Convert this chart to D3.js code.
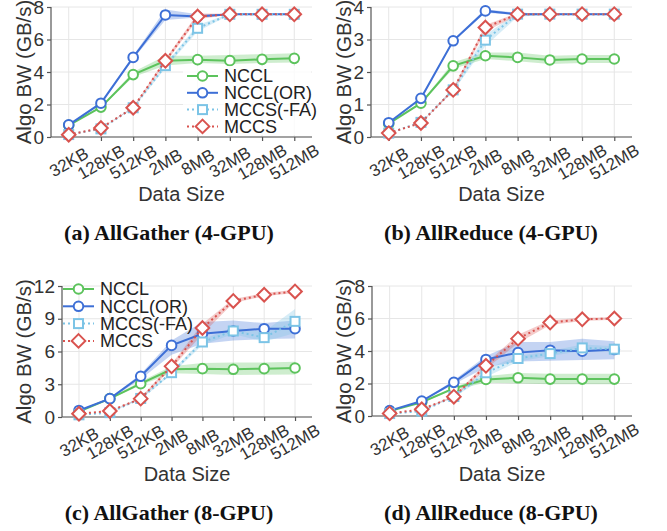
<!DOCTYPE html>
<html>
<head>
<meta charset="utf-8">
<script src="https://cdn.jsdelivr.net/npm/d3@7"></script>
<style>
  body { margin: 0; background: #fff; }
  svg { display: block; }
</style>
</head>
<body>
<div id="chart"></div>
<script>
// Message sizes on the x axis
const sizes = ["32KB", "128KB", "512KB", "2MB", "8MB", "32MB", "128MB", "512MB"];
const seriesNames = ["NCCL", "NCCL(OR)", "MCCS(-FA)", "MCCS"];

// (a) AllGather 4-GPU
const ag4Nccl     = [0.72, 1.84, 3.84, 4.69, 4.76, 4.70, 4.78, 4.84];
const ag4NcclLo   = [0.72, 1.80, 3.70, 4.40, 4.55, 4.50, 4.55, 4.58];
const ag4NcclHi   = [0.72, 1.88, 4.00, 5.00, 5.00, 5.05, 5.10, 5.15];
const ag4Or       = [0.75, 2.08, 4.90, 7.51, 7.41, 7.55, 7.55, 7.55];
const ag4OrLo     = [0.75, 2.05, 4.80, 7.20, 7.35, 7.52, 7.52, 7.52];
const ag4OrHi     = [0.75, 2.10, 5.00, 7.85, 7.55, 7.58, 7.58, 7.58];
const ag4Fa       = [0.15, 0.50, 1.80, 4.39, 6.69, 7.55, 7.55, 7.55];
const ag4FaLo     = [0.15, 0.50, 1.75, 4.25, 6.50, 7.52, 7.52, 7.52];
const ag4FaHi     = [0.15, 0.50, 1.85, 4.50, 6.90, 7.58, 7.58, 7.58];
const ag4Mccs     = [0.14, 0.55, 1.80, 4.69, 7.41, 7.55, 7.55, 7.55];
const ag4MccsLo   = [0.14, 0.55, 1.75, 4.55, 7.25, 7.52, 7.52, 7.52];
const ag4MccsHi   = [0.14, 0.55, 1.85, 4.80, 7.60, 7.58, 7.58, 7.58];

// (b) AllReduce 4-GPU
const ar4Nccl     = [0.41, 1.04, 2.19, 2.50, 2.45, 2.37, 2.40, 2.40];
const ar4NcclLo   = [0.41, 1.02, 2.10, 2.40, 2.33, 2.25, 2.28, 2.28];
const ar4NcclHi   = [0.41, 1.06, 2.30, 2.60, 2.60, 2.50, 2.52, 2.52];
const ar4Or       = [0.44, 1.19, 2.96, 3.88, 3.78, 3.78, 3.78, 3.78];
const ar4OrLo     = [0.44, 1.17, 2.92, 3.82, 3.75, 3.76, 3.76, 3.76];
const ar4OrHi     = [0.44, 1.21, 3.00, 3.93, 3.82, 3.80, 3.80, 3.80];
const ar4Fa       = [0.12, 0.45, 1.45, 2.98, 3.78, 3.78, 3.78, 3.78];
const ar4FaLo     = [0.12, 0.45, 1.40, 2.80, 3.70, 3.76, 3.76, 3.76];
const ar4FaHi     = [0.12, 0.45, 1.50, 3.15, 3.82, 3.80, 3.80, 3.80];
const ar4Mccs     = [0.12, 0.43, 1.45, 3.37, 3.78, 3.78, 3.78, 3.78];
const ar4MccsLo   = [0.12, 0.43, 1.40, 3.25, 3.74, 3.76, 3.76, 3.76];
const ar4MccsHi   = [0.12, 0.43, 1.50, 3.45, 3.82, 3.80, 3.80, 3.80];

// (c) AllGather 8-GPU
const ag8Nccl     = [0.50, 1.68, 3.05, 4.37, 4.43, 4.37, 4.43, 4.49];
const ag8NcclLo   = [0.50, 1.62, 2.90, 4.00, 3.95, 3.85, 3.88, 3.90];
const ag8NcclHi   = [0.50, 1.74, 3.25, 4.65, 4.95, 5.00, 5.00, 5.05];
const ag8Or       = [0.60, 1.68, 3.73, 6.56, 7.63, 7.88, 8.09, 8.09];
const ag8OrLo     = [0.60, 1.62, 3.45, 5.70, 6.70, 7.00, 7.15, 7.20];
const ag8OrHi     = [0.60, 1.74, 3.95, 7.00, 8.70, 8.85, 8.60, 8.85];
const ag8Fa       = [0.20, 0.40, 1.70, 4.06, 6.87, 7.88, 7.27, 8.76];
const ag8FaLo     = [0.20, 0.40, 1.60, 3.90, 6.60, 7.60, 6.90, 7.70];
const ag8FaHi     = [0.20, 0.40, 1.80, 4.20, 7.10, 8.20, 7.80, 9.90];
const ag8Mccs     = [0.30, 0.55, 1.68, 4.64, 8.15, 10.63, 11.20, 11.50];
const ag8MccsLo   = [0.30, 0.55, 1.60, 4.45, 7.60, 10.45, 11.05, 11.35];
const ag8MccsHi   = [0.30, 0.55, 1.78, 4.85, 8.55, 10.80, 11.35, 11.65];

// (d) AllReduce 8-GPU
const ar8Nccl     = [0.30, 0.85, 1.70, 2.25, 2.35, 2.27, 2.27, 2.27];
const ar8NcclLo   = [0.30, 0.83, 1.62, 2.05, 2.00, 1.95, 1.95, 1.95];
const ar8NcclHi   = [0.30, 0.87, 1.78, 2.45, 2.65, 2.60, 2.60, 2.60];
const ar8Or       = [0.33, 0.92, 2.07, 3.48, 3.90, 4.05, 3.99, 4.09];
const ar8OrLo     = [0.33, 0.90, 1.95, 3.00, 3.35, 3.40, 3.45, 3.50];
const ar8OrHi     = [0.33, 0.94, 2.20, 3.70, 4.55, 4.55, 4.75, 4.60];
const ar8Fa       = [0.15, 0.30, 1.20, 2.66, 3.54, 3.84, 4.19, 4.11];
const ar8FaLo     = [0.15, 0.30, 1.15, 2.40, 3.35, 3.70, 4.00, 3.95];
const ar8FaHi     = [0.15, 0.30, 1.25, 2.90, 3.70, 4.00, 4.40, 4.30];
const ar8Mccs     = [0.16, 0.41, 1.19, 3.09, 4.76, 5.75, 5.95, 6.00];
const ar8MccsLo   = [0.16, 0.41, 1.12, 2.90, 4.50, 5.60, 5.85, 5.92];
const ar8MccsHi   = [0.16, 0.41, 1.26, 3.25, 5.00, 5.90, 6.05, 6.08];

const yTicks4GpuAg = [0, 2, 4, 6, 8];
const yTicks4GpuAr = [0, 1, 2, 3, 4];
const yTicks8GpuAg = [0, 3, 6, 9, 12];
const yTicks8GpuAr = [0, 2, 4, 6, 8];

// Series look: color, dash, marker
const STYLES = [
  { color: "#5cc35c", dash: null,  marker: "circle"  },
  { color: "#3d6fd6", dash: null,  marker: "circle"  },
  { color: "#7cc4e6", dash: "2,3", marker: "square"  },
  { color: "#d9534f", dash: "2,3", marker: "diamond" },
];

const SANS  = "'Liberation Sans', Arial, sans-serif";
const SERIF = "'Liberation Serif', 'DejaVu Serif', serif";

const W = 667, H = 531;
const svg = d3.select("#chart").append("svg")
  .attr("width", W).attr("height", H);
svg.append("rect").attr("width", W).attr("height", H).attr("fill", "#fff");

function drawMarker(sel, kind, color) {
  if (kind === "circle") {
    sel.append("circle").attr("r", 4.8);
  } else if (kind === "square") {
    sel.append("rect").attr("x", -4.5).attr("y", -4.5).attr("width", 9).attr("height", 9);
  } else {
    sel.append("path").attr("d", "M0,-6.8L6.8,0L0,6.8L-6.8,0Z");
  }
  sel.selectAll("*").attr("fill", "#fff").attr("stroke", color).attr("stroke-width", 2);
}

function drawPanel(p) {
  const x = d3.scaleLinear().domain([-0.55, sizes.length - 0.45]).range([p.left, p.right]);
  const y = d3.scaleLinear().domain([0, p.yMax]).range([p.bottom, p.top]);
  const g = svg.append("g");

  // grid
  g.append("g").selectAll("line").data(sizes).join("line")
    .attr("x1", (d, i) => x(i)).attr("x2", (d, i) => x(i))
    .attr("y1", p.top).attr("y2", p.bottom)
    .attr("stroke", "#e6e6e6").attr("stroke-width", 1);
  g.append("g").selectAll("line").data(p.yTicks).join("line")
    .attr("x1", p.left).attr("x2", p.right)
    .attr("y1", d => y(d)).attr("y2", d => y(d))
    .attr("stroke", "#e6e6e6").attr("stroke-width", 1);

  // bands
  p.series.forEach((s, k) => {
    const area = d3.area()
      .x((d, i) => x(i))
      .y0((d, i) => y(s.lo[i]))
      .y1((d, i) => y(s.hi[i]));
    g.append("path").datum(s.v).attr("d", area)
      .attr("fill", STYLES[k].color).attr("fill-opacity", 0.3);
  });

  // axes
  const xAxis = g.append("g").attr("transform", `translate(0,${p.bottom})`)
    .call(d3.axisBottom(x).tickValues(d3.range(sizes.length)).tickSize(4).tickFormat(""));
  xAxis.select(".domain").attr("d", `M${p.left},0H${p.right}`);
  xAxis.selectAll("path, line").attr("stroke", "#555").attr("stroke-width", 1.2);

  g.append("g").selectAll("text").data(sizes).join("text")
    .attr("transform", (d, i) => `translate(${x(i)},${p.bottom + 25}) rotate(-30)`)
    .attr("text-anchor", "middle").attr("dy", "0.35em")
    .attr("font-family", SANS).attr("font-size", 17).attr("fill", "#333")
    .text(d => d);

  const yAxis = g.append("g").attr("transform", `translate(${p.left},0)`)
    .call(d3.axisLeft(y).tickValues(p.yTicks).tickSize(4).tickPadding(3)
      .tickFormat(d3.format("d")));
  yAxis.select(".domain").attr("d", `M0,${p.top}V${p.bottom}`);
  yAxis.selectAll("path, line").attr("stroke", "#555").attr("stroke-width", 1.2);
  yAxis.selectAll("text").attr("font-family", SANS).attr("font-size", 19).attr("fill", "#333");

  // lines + markers
  p.series.forEach((s, k) => {
    const st = STYLES[k];
    const line = d3.line().x((d, i) => x(i)).y(d => y(d));
    g.append("path").datum(s.v).attr("d", line)
      .attr("fill", "none").attr("stroke", st.color).attr("stroke-width", 2)
      .attr("stroke-dasharray", st.dash);
    g.append("g").selectAll("g").data(s.v).join("g")
      .attr("transform", (d, i) => `translate(${x(i)},${y(d)})`)
      .each(function () { drawMarker(d3.select(this), st.marker, st.color); });
  });

  // labels
  g.append("text")
    .attr("transform", `translate(${p.yLabelX},${(p.top + p.bottom) / 2}) rotate(-90)`)
    .attr("text-anchor", "middle").attr("dy", "0.35em")
    .attr("font-family", SANS).attr("font-size", 20.5).attr("fill", "#333")
    .text("Algo BW (GB/s)");
  g.append("text")
    .attr("x", (p.left + p.right) / 2).attr("y", p.xLabelY)
    .attr("text-anchor", "middle")
    .attr("font-family", SANS).attr("font-size", 20).attr("fill", "#333")
    .text("Data Size");
  g.append("text")
    .attr("x", p.captionX).attr("y", p.captionY)
    .attr("text-anchor", "middle")
    .attr("font-family", SERIF).attr("font-weight", "bold").attr("font-size", 22).attr("fill", "#111")
    .text(p.caption);

  if (p.legend) drawLegend(g, p.legend);
}

function drawLegend(g, L) {
  if (L.w) {
    g.append("rect")
      .attr("x", L.x - 4).attr("y", L.y - 10)
      .attr("width", L.w).attr("height", L.step * 4 + 2)
      .attr("fill", "#fff").attr("fill-opacity", 0.8);
  }
  seriesNames.forEach((name, k) => {
    const st = STYLES[k];
    const ry = L.y + k * L.step;
    const row = g.append("g");
    row.append("line")
      .attr("x1", L.x).attr("x2", L.x + 31).attr("y1", ry).attr("y2", ry)
      .attr("stroke", st.color).attr("stroke-width", 2)
      .attr("stroke-dasharray", st.dash);
    const m = row.append("g").attr("transform", `translate(${L.x + 15.5},${ry})`);
    drawMarker(m, st.marker, st.color);
    row.append("text")
      .attr("x", L.x + 37).attr("y", ry).attr("dy", "0.36em")
      .attr("font-family", SANS).attr("font-size", 18).attr("fill", "#222")
      .text(name);
  });
}

drawPanel({
  left: 51, right: 312, top: 7, bottom: 137, yMax: 8, yTicks: yTicks4GpuAg,
  yLabelX: 24, xLabelY: 201, captionX: 169, captionY: 240,
  caption: "(a) AllGather (4-GPU)",
  series: [
    { v: ag4Nccl, lo: ag4NcclLo, hi: ag4NcclHi },
    { v: ag4Or,   lo: ag4OrLo,   hi: ag4OrHi },
    { v: ag4Fa,   lo: ag4FaLo,   hi: ag4FaHi },
    { v: ag4Mccs, lo: ag4MccsLo, hi: ag4MccsHi },
  ],
  legend: { x: 187, y: 76, step: 16.8, w: 128 },
});

drawPanel({
  left: 371, right: 632, top: 7, bottom: 137, yMax: 4, yTicks: yTicks4GpuAr,
  yLabelX: 344, xLabelY: 201, captionX: 491, captionY: 240,
  caption: "(b) AllReduce (4-GPU)",
  series: [
    { v: ar4Nccl, lo: ar4NcclLo, hi: ar4NcclHi },
    { v: ar4Or,   lo: ar4OrLo,   hi: ar4OrHi },
    { v: ar4Fa,   lo: ar4FaLo,   hi: ar4FaHi },
    { v: ar4Mccs, lo: ar4MccsLo, hi: ar4MccsHi },
  ],
});

drawPanel({
  left: 62, right: 312, top: 286, bottom: 417, yMax: 12, yTicks: yTicks8GpuAg,
  yLabelX: 24, xLabelY: 481, captionX: 169, captionY: 520,
  caption: "(c) AllGather (8-GPU)",
  series: [
    { v: ag8Nccl, lo: ag8NcclLo, hi: ag8NcclHi },
    { v: ag8Or,   lo: ag8OrLo,   hi: ag8OrHi },
    { v: ag8Fa,   lo: ag8FaLo,   hi: ag8FaHi },
    { v: ag8Mccs, lo: ag8MccsLo, hi: ag8MccsHi },
  ],
  legend: { x: 63, y: 289, step: 17.3, w: 0 },
});

drawPanel({
  left: 372, right: 632, top: 286, bottom: 416, yMax: 8, yTicks: yTicks8GpuAr,
  yLabelX: 344, xLabelY: 481, captionX: 491, captionY: 520,
  caption: "(d) AllReduce (8-GPU)",
  series: [
    { v: ar8Nccl, lo: ar8NcclLo, hi: ar8NcclHi },
    { v: ar8Or,   lo: ar8OrLo,   hi: ar8OrHi },
    { v: ar8Fa,   lo: ar8FaLo,   hi: ar8FaHi },
    { v: ar8Mccs, lo: ar8MccsLo, hi: ar8MccsHi },
  ],
});
</script>
</body>
</html>
